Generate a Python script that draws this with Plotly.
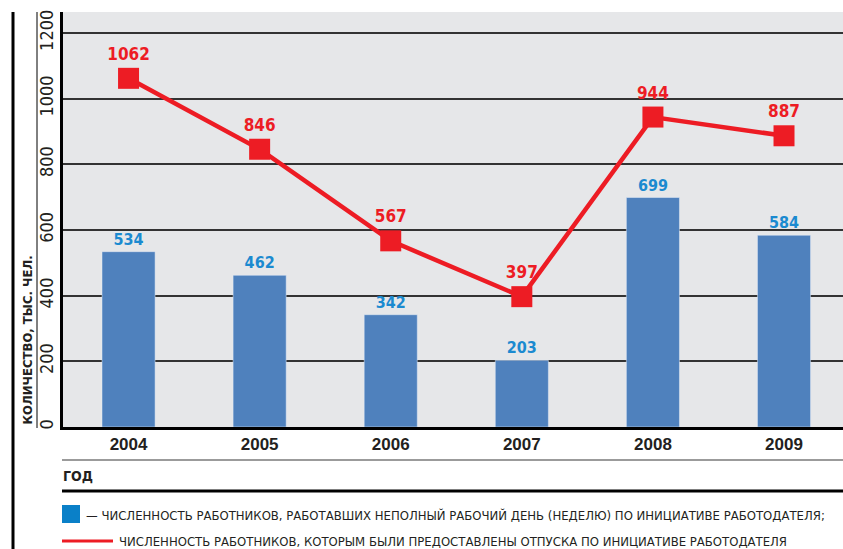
import plotly.graph_objects as go

years = ["2004", "2005", "2006", "2007", "2008", "2009"]
part_time = [534, 462, 342, 203, 699, 584]
leave = [1062, 846, 567, 397, 944, 887]
y_ticks = [0, 200, 400, 600, 800, 1000, 1200]
y_title = "КОЛИЧЕСТВО, ТЫС. ЧЕЛ."
x_title = "ГОД"
legend_bar = "— ЧИСЛЕННОСТЬ РАБОТНИКОВ, РАБОТАВШИХ НЕПОЛНЫЙ РАБОЧИЙ ДЕНЬ (НЕДЕЛЮ) ПО ИНИЦИАТИВЕ РАБОТОДАТЕЛЯ;"
legend_line = "ЧИСЛЕННОСТЬ РАБОТНИКОВ, КОТОРЫМ БЫЛИ ПРЕДОСТАВЛЕНЫ ОТПУСКА ПО ИНИЦИАТИВЕ РАБОТОДАТЕЛЯ"

W, H = 843, 549
L, R, T, B = 63, 843, 12, 427

def px(x):
    return (x - L) / (R - L)

def py(y):
    return (B - y) / (B - T)

NARROW = "DejaVu Sans Condensed, Liberation Sans Narrow, sans-serif"
BOLD = "Liberation Sans, Arial, sans-serif"
DARK = "#231f20"

fig = go.Figure()
fig.add_trace(go.Bar(
    x=years, y=part_time, marker_color="#4f81bd", width=0.405,
    text=[str(v) for v in part_time], textposition="outside",
    textfont=dict(family=NARROW, size=16, color="#1b8ad0", weight="bold"),
    cliponaxis=False, showlegend=False,
))
fig.add_trace(go.Scatter(
    x=years, y=leave, mode="lines+markers+text",
    line=dict(color="#ed1c24", width=4.5),
    marker=dict(symbol="square", size=21, color="#ed1c24"),
    text=[str(v) for v in leave], textposition="top center",
    textfont=dict(family=NARROW, size=17, color="#ed1c24", weight="bold"),
    cliponaxis=False, showlegend=False,
))

shapes = [
    dict(type="line", xref="paper", yref="paper", x0=px(13), x1=px(13), y0=py(12), y1=py(549),
         line=dict(color="black", width=3)),
    dict(type="line", xref="paper", yref="paper", x0=px(37), x1=px(37), y0=py(12), y1=py(428),
         line=dict(color="black", width=1)),
    dict(type="line", xref="paper", yref="paper", x0=px(62), x1=1, y0=py(460), y1=py(460),
         line=dict(color="#7a7a7a", width=1.5)),
    dict(type="line", xref="paper", yref="paper", x0=px(62), x1=1, y0=py(491), y1=py(491),
         line=dict(color="black", width=3)),
    dict(type="rect", xref="paper", yref="paper", x0=px(62), x1=px(80), y0=py(505), y1=py(523),
         fillcolor="#0a80c8", line=dict(width=0)),
    dict(type="line", xref="paper", yref="paper", x0=px(62), x1=px(113), y0=py(541), y1=py(541),
         line=dict(color="#ed1c24", width=3)),
]

annotations = [
    dict(text=y_title, xref="paper", yref="paper", x=px(27), y=py(427), textangle=-90,
         xanchor="center", yanchor="bottom", showarrow=False,
         font=dict(family=NARROW, size=13, color=DARK, weight="bold")),
    dict(text=x_title, xref="paper", yref="paper", x=px(61), y=py(476), xanchor="left",
         yanchor="middle", showarrow=False,
         font=dict(family=NARROW, size=14, color=DARK, weight="bold")),
    dict(text=legend_bar, xref="paper", yref="paper", x=px(84), y=py(515), xanchor="left",
         yanchor="middle", showarrow=False, font=dict(family=NARROW, size=13, color=DARK)),
    dict(text=legend_line, xref="paper", yref="paper", x=px(117), y=py(541), xanchor="left",
         yanchor="middle", showarrow=False, font=dict(family=NARROW, size=13, color=DARK)),
]

fig.update_layout(
    width=W, height=H,
    margin=dict(l=L, r=W - R, t=T, b=H - B),
    paper_bgcolor="white", plot_bgcolor="#e6e7e9",
    shapes=shapes, annotations=annotations,
    xaxis=dict(type="category", range=[-0.5, 5.45], showgrid=False,
               showline=True, linecolor="black", linewidth=3,
               ticks="", tickfont=dict(family=BOLD, size=17, color=DARK, weight="bold")),
    yaxis=dict(range=[0, 1264], tickvals=y_ticks, ticktext=[str(v) for v in y_ticks],
               tickangle=-90, showgrid=True, gridcolor="#333333", gridwidth=1.5,
               zeroline=False, showline=True, linecolor="black", linewidth=3,
               ticks="", tickfont=dict(family=NARROW, size=18, color=DARK)),
)

fig.write_html(
    "out.html",
    config={"displayModeBar": False},
    post_script="document.body.style.margin='0';document.body.style.overflow='hidden';",
)
